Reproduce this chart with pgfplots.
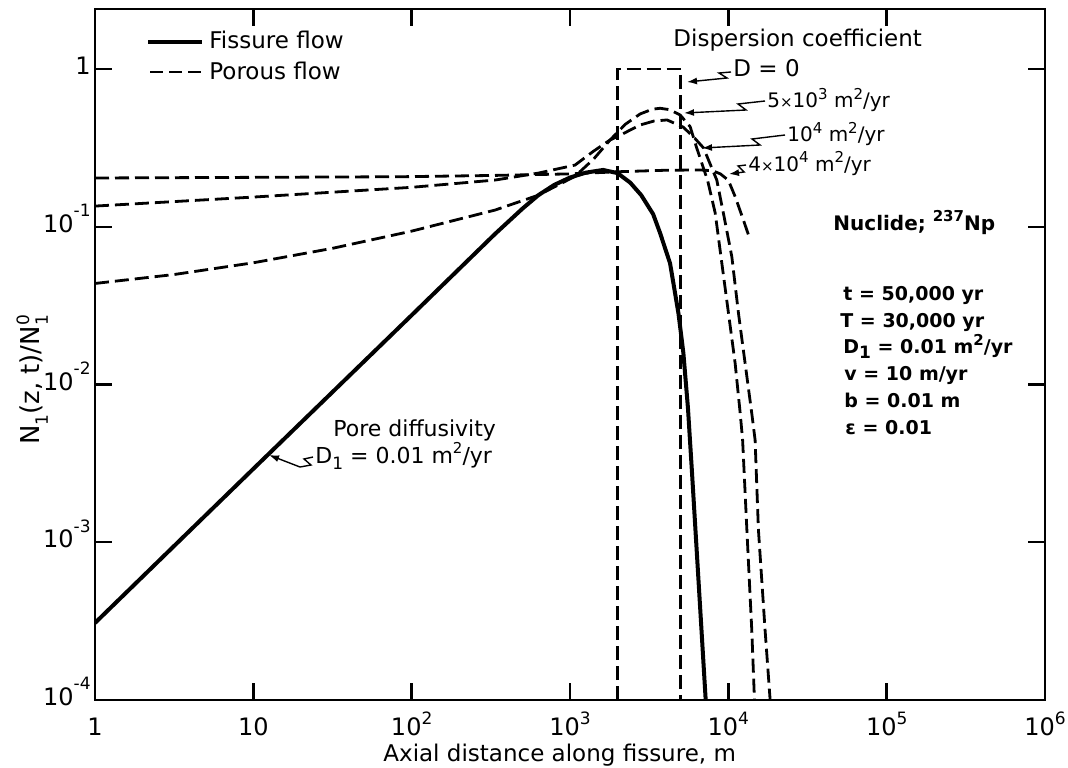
\documentclass[border=0pt]{standalone}
\usepackage{fontspec}
\setmainfont{DejaVu Sans}
\usepackage{pgfplots}
\usepackage{pgfplotstable}
\pgfplotsset{compat=1.18}
\usetikzlibrary{arrows.meta}

\newcommand\fs{\fontsize{11.5}{13.8}\selectfont}
\newcommand\ts{\fontsize{12}{14}\selectfont}
\newcommand\up[1]{\raisebox{0.42em}{\fontsize{8.5}{9}\selectfont #1}}
\newcommand\ups[1]{\raisebox{0.42em}{\fontsize{7.5}{8}\selectfont #1}}
\newcommand\uph[1]{\raisebox{0.66em}{\fontsize{8.5}{9}\selectfont #1}}
\newcommand\dn[1]{\raisebox{-0.3em}{\fontsize{8.5}{9}\selectfont #1}}
\newcommand\tm{{\fontsize{7.5}{8}\selectfont ×}}

% fissure flow, D_1 = 0.01 m^2/yr
\pgfplotstableread{
x y
1 3.08e-4
10 2.92e-3
100 0.0275
336 0.0900
501 0.1303
631 0.1585
794 0.1841
1000 0.2051
1259 0.2203
1618 0.2291
1995 0.2188
2399 0.1905
2818 0.1585
3350 0.1202
3707 0.0912
4285 0.0586
4842 0.0282
5200 0.01585
5559 0.00708
5888 0.00282
6310 0.000891
6761 0.000282
7194 0.0001
}\fissure

% porous flow, D = 0
\pgfplotstableread{
x y
2000 0.0001
2000 1
5000 1
5000 0.0001
}\dzero

% porous flow, D = 5x10^3 m^2/yr
\pgfplotstableread{
x y
1 0.0437
3.162 0.0498
10 0.0591
31.62 0.0730
100 0.0938
336.5 0.1276
631 0.1585
1076 0.2089
1413 0.2692
1791 0.3548
2239 0.4467
2773 0.5188
3311 0.5559
3707 0.5636
4266 0.5521
4966 0.5105
5741 0.4305
6310 0.3162
7413 0.1950
8260 0.1222
9099 0.0586
10023 0.02825
11041 0.01361
11885 0.00656
12303 0.00447
13092 0.0012
14060 0.000278
14622 0.0001
}\dfive

% porous flow, D = 10^4 m^2/yr
\pgfplotstableread{
x y
1 0.1352
10 0.1542
100 0.1778
336.5 0.1977
631 0.2188
1076 0.2460
1413 0.3020
1791 0.3548
2070 0.3802
2773 0.4416
3388 0.4677
4102 0.4753
5176 0.4285
6026 0.3715
6966 0.3162
8453 0.1977
9311 0.1216
10520 0.0646
11588 0.02825
12764 0.01361
14060 0.00656
14757 0.00445
15488 0.0012
17061 0.000278
18365 0.0001
}\dten

% porous flow, D = 4x10^4 m^2/yr
\pgfplotstableread{
x y
1 0.2037
85.1 0.2075
316 0.2113
1000 0.2163
2070 0.2234
3981 0.2280
6637 0.2291
7943 0.2265
8913 0.2163
10000 0.1972
11041 0.1552
12445 0.1104
13740 0.0824
}\dforty

\begin{document}
\begin{tikzpicture}
\begin{axis}[
  xmode=log, ymode=log,
  scale only axis, width=475pt, height=345.5pt,
  xmin=1, xmax=1e6, ymin=1e-4, ymax=2.4,
  axis line style={line width=1.3pt},
  every tick/.style={black, line width=1.2pt},
  major tick length=8.5pt,
  tick align=inside,
  xminorticks=false, yminorticks=false,
  xtick={1,10,100,1000,10000,100000,1000000},
  xticklabels={1,10,{10\up{2}},{10\up{3}},{10\up{4}},{10\up{5}},{10\up{6}}},
  ytick={1e-4,1e-3,1e-2,1e-1,1},
  yticklabels={{10\uph{-4}},{10\uph{-3}},{10\uph{-2}},{10\uph{-1}},1},
  xticklabel style={font=\ts, anchor=base, yshift=-17.5pt, inner sep=0pt},
  yticklabel style={font=\ts, anchor=base east, yshift=-2.8pt, inner xsep=2pt},
  dashed curve/.style={black, line width=1.4pt, dash pattern=on 7pt off 3pt},
]
\addplot[black, line width=2pt] table {\fissure};
\addplot[dashed curve] table {\dzero};
\addplot[dashed curve] table {\dfive};
\addplot[dashed curve] table {\dten};
\addplot[dashed curve] table {\dforty};
\coordinate (bl) at (rel axis cs:0,0);
\end{axis}

\begin{scope}[shift={(bl)}, x=0.5pt, y=-0.5pt, shift={(-95,-700)},
  every node/.style={inner sep=0pt, font=\fs},
  lead/.style={line width=0.7pt, -{Latex[length=5pt,width=3.5pt]}}]
  % legend
  \draw[line width=1.6pt] (148,42) -- (202,42);
  \node[anchor=base west] at (209,49) {Fissure flow};
  \draw[line width=1.4pt, dash pattern=on 6.5pt off 3pt] (150,72) -- (202,72);
  \node[anchor=base west] at (209,80) {Porous flow};
  % dispersion coefficients
  \node[anchor=base west] at (673,47) {Dispersion coefficient};
  \node[anchor=base west] at (733,77) {D = 0};
  \draw[lead] (731,72) -- (719,73) -- (727,78) -- (687,82);
  \node[anchor=base west, font=\fontsize{10}{12}\selectfont] at (767,108) {5\tm10\ups{3} m\ups{2}/yr};
  \draw[lead] (765,101) -- (738,104) -- (746,110) -- (684,113);
  \node[anchor=base west, font=\fontsize{10}{12}\selectfont] at (787,142) {10\ups{4} m\ups{2}/yr};
  \draw[lead] (785,135) -- (752,139) -- (760,145) -- (702,148);
  \node[anchor=base west, font=\fontsize{10}{12}\selectfont] at (748,171) {4\tm10\ups{4} m\ups{2}/yr};
  \draw[lead] (746,165) -- (738,166) -- (744,172) -- (729,174);
  % pore diffusivity
  \node[anchor=base west, font=\fontsize{11}{13}\selectfont] at (333,436) {Pore diffusivity};
  \node[anchor=base west, font=\fontsize{11}{13}\selectfont] at (315,463) {D\dn{1} = 0.01 m\ups{2}/yr};
  \draw[lead] (313,457) -- (304,459) -- (311,465) -- (300,467) -- (269,455);
  % parameters
  \node[anchor=base west, font=\fontsize{10}{12}\selectfont\bfseries] at (833,230) {Nuclide; \ups{237}Np};
  \begin{scope}[every node/.style={inner sep=0pt, anchor=base west, font=\fontsize{9.5}{11}\selectfont\bfseries}]
    \node at (843,300) {t = 50,000 yr};
    \node at (840,327) {T = 30,000 yr};
    \node at (843,353) {D\dn{1} = 0.01 m\ups{2}/yr};
    \node at (844,380) {v = 10 m/yr};
    \node at (844,407) {b = 0.01 m};
    \node at (845,434) {ε = 0.01};
  \end{scope}
  % axis titles
  \node[anchor=base west] at (383,761) {Axial distance along fissure, m};
  \node[rotate=90, anchor=base, font=\fontsize{13}{15}\selectfont] at (40,380)
    {N\dn{1}(z, t)/N\rlap{\up{0}}\dn{1}};
\end{scope}

\pgfresetboundingbox
\path (bl) ++(-47.5pt,-33.5pt) rectangle ++(534pt,383.5pt);
\end{tikzpicture}
\end{document}
